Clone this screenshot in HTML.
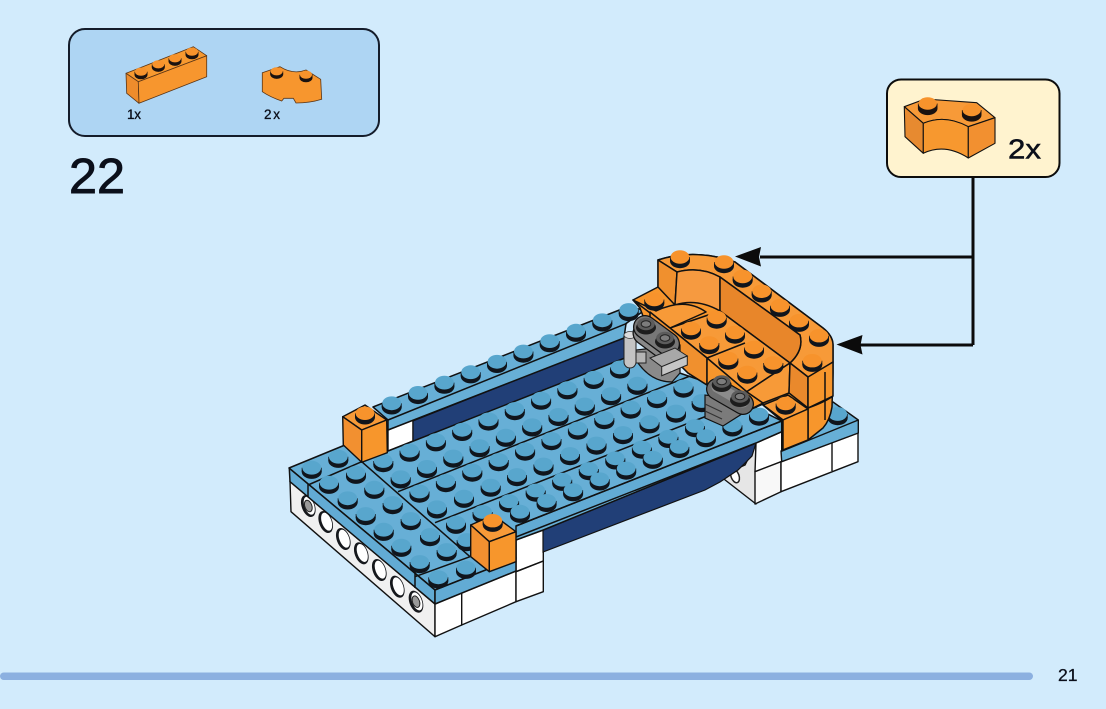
<!DOCTYPE html>
<html><head><meta charset="utf-8"><style>
html,body{margin:0;padding:0;background:#d2ebfc}
svg{display:block}
text{font-family:"Liberation Sans",sans-serif;fill:#0b0f1a;stroke:#0b0f1a}
</style></head><body>
<svg width="1106" height="709" viewBox="0 0 1106 709" xmlns="http://www.w3.org/2000/svg">
<defs>
<g id="b"><ellipse cx="0" cy="4" rx="10" ry="7.2" fill="#10151c"/><rect x="-10" y="0" width="20" height="4" fill="#10151c"/><ellipse cx="0" cy="0" rx="9.4" ry="6.9" fill="#58a6cd"/></g>
<g id="o"><ellipse cx="0" cy="4" rx="10" ry="7.2" fill="#10151c"/><rect x="-10" y="0" width="20" height="4" fill="#10151c"/><ellipse cx="0" cy="0" rx="9.4" ry="6.7" fill="#f7932c"/></g>
<g id="g"><ellipse cx="0" cy="3.5" rx="10" ry="7" fill="#1d1d1d"/><ellipse cx="0" cy="0" rx="8.8" ry="6.2" fill="#5c5c5c"/><ellipse cx="0" cy="0" rx="4.8" ry="3.3" fill="#7c7c7c" stroke="#222" stroke-width="1"/></g>
<g id="h"><ellipse cx="0" cy="0" rx="6.6" ry="11.5" transform="rotate(-20)" fill="#16181c"/><ellipse cx="1" cy="0" rx="4.8" ry="9.4" transform="rotate(-20)" fill="#fff"/></g>
<g id="sm"><ellipse cx="0" cy="3" rx="6.5" ry="4.6" fill="#1a1210"/><rect x="-6.5" y="0" width="13" height="3" fill="#1a1210"/><ellipse cx="0" cy="0" rx="6" ry="4.1" fill="#f7932c"/></g>
<g id="lg"><ellipse cx="0" cy="5" rx="9.8" ry="6.6" fill="#1a1210"/><rect x="-9.8" y="0" width="19.6" height="5" fill="#1a1210"/><ellipse cx="0" cy="0" rx="9.2" ry="6.2" fill="#f7932c"/></g>
</defs>
<rect width="1106" height="709" fill="#d2ebfc"/>

<!-- parts panel -->
<rect x="69" y="29" width="310" height="107" rx="16" fill="#aed5f3" stroke="#141c2a" stroke-width="2"/>
<g stroke="#5a3516" stroke-width=".8" stroke-linejoin="round">
<polygon points="126,73.3 193.3,46.7 206.7,55.7 138.3,81.7" fill="#f7992f"/>
<polygon points="126,73.3 138.3,81.7 139,103.3 126.7,93.3" fill="#ee8c2c"/>
<polygon points="138.3,81.7 206.7,55.7 206.7,76.7 139,103.3" fill="#f7962e"/>
</g>
<use href="#sm" x="141" y="71.7"/><use href="#sm" x="158.3" y="64.3"/><use href="#sm" x="175" y="58.3"/><use href="#sm" x="192" y="51.7"/>
<path d="M262.3,72.7 L280,66.7 Q293,75 306,70 L320.7,79.3 L321.7,99.3 Q310,103 296,103 L293.3,98.3 L284,98.3 L281.7,101 Q270,97 262.3,91.7 Z" fill="#f7962e" stroke="#5a3516" stroke-width=".8"/>
<use href="#sm" x="276.7" y="71.3"/><use href="#sm" x="306" y="74.7"/>
<text x="127" y="119" font-size="13.5" stroke-width=".3" textLength="14">1x</text>
<text x="264" y="119" font-size="13.5" stroke-width=".3" textLength="16">2x</text>
<text x="69" y="193" font-size="49" stroke-width=".9" textLength="56" lengthAdjust="spacingAndGlyphs">22</text>

<!-- callout -->
<rect x="887" y="79.5" width="172.5" height="97.5" rx="14" fill="#fff3cf" stroke="#0c0c0c" stroke-width="2"/>
<g stroke="#111" stroke-width="1.1" stroke-linejoin="round">
<path d="M904.3,106.7 L925,99 L976.7,102.7 L995,117.7 L968.3,126.7 Q945,114 923.3,123.3 Z" fill="#f79a38"/>
<path d="M904.3,106.7 L923.3,123.3 L923.3,153.3 L905,136.7 Z" fill="#e78a30"/>
<path d="M923.3,123.3 Q945,114 968.3,126.7 L968.3,158 Q945,143 923.3,153.3 Z" fill="#f7982f"/>
<path d="M968.3,126.7 L995,117.7 L995,143.3 L968.3,158 Z" fill="#f29030"/>
</g>
<use href="#lg" x="927.7" y="103.5"/><use href="#lg" x="971.7" y="110"/>
<text x="1008" y="158.5" font-size="28" stroke-width=".5" textLength="33" lengthAdjust="spacingAndGlyphs">2x</text>

<!-- connector lines -->
<g fill="none" stroke="#0b0b0b" stroke-width="3">
<path d="M973,177 V345"/><path d="M760,257 H973"/><path d="M860,345 H973"/>
</g>
<polygon points="735,256.5 761,247 759,257 761,266.5" fill="#0b0b0b"/>
<polygon points="836.5,344.5 862.5,335 860.5,345 862.5,354.5" fill="#0b0b0b"/>

<!-- right white bricks -->
<g stroke="#111" stroke-width="1.4" stroke-linejoin="round">
<polygon points="720,476 745,465 756,443 756,504" fill="#e6e6e6"/>
<polygon points="756,443 781.7,431.7 781.7,461.7 755,471.7" fill="#fff"/>
<polygon points="755,471.7 781,461.7 781,491.7 755,504" fill="#f8f8f8"/>
<polygon points="781,461.7 858,433 858,461.7 781,491.7" fill="#fff"/>
<path d="M832,442 V471" fill="none"/>
<polygon points="781,451 833,402 858.3,420 858.3,433 781.7,461.7" fill="#67afd6"/>
<path d="M781,451.5 L858.3,420" fill="none"/>
</g>
<use href="#b" x="837.7" y="414"/>
<ellipse cx="735" cy="476" rx="4" ry="7" transform="rotate(-20 735 476)" fill="#fff" stroke="#222" stroke-width="1.5"/>

<!-- left white base -->
<g stroke="#111" stroke-width="1.4" stroke-linejoin="round">
<polygon points="290,481 435,604 435,636.7 291,511.7" fill="#f0f0f0"/>
<polygon points="435,604 461.7,593 461.7,625 435,636.7" fill="#fff"/>
<polygon points="461.7,593 516,571 516,601.7 461.7,625" fill="#fff"/>
<polygon points="516,563 543.3,552 543.3,591.7 516,601.7" fill="#fff"/>
<polygon points="516,540 543.3,530 543.3,561 516,571.7" fill="#fff"/>
<path d="M516,571.7 L543.3,561" fill="none"/>
<polygon points="388,430 413,420 413,441 388,451" fill="#fff"/>
</g>
<use href="#h" x="308.3" y="506"/><use href="#h" x="325.7" y="522"/><use href="#h" x="343.3" y="539"/><use href="#h" x="361.3" y="553.3"/><use href="#h" x="379.3" y="570"/><use href="#h" x="397.3" y="586.7"/><use href="#h" x="416" y="601.7"/>
<ellipse cx="308.3" cy="506" rx="3.5" ry="6" transform="rotate(-20 308.3 506)" fill="#9a9a9a" stroke="#222"/>
<ellipse cx="416" cy="601.7" rx="3.5" ry="6" transform="rotate(-20 416 601.7)" fill="#9a9a9a" stroke="#222"/>

<!-- dark blue -->
<polygon points="413,421 632,334 632,360 413,442" fill="#213f77" stroke="#111" stroke-width="1.2"/>
<polygon points="543,530 756,443 752,456 738,470 720,482 705,490 543,552" fill="#213f77" stroke="#111" stroke-width="1.2"/>

<!-- blue plates -->
<g stroke="#111" stroke-width="1.5" stroke-linejoin="round">
<polygon points="373,407 627,307 645,310 626,323.5 624,338 388,430 388,420" fill="#67afd6"/>
<path d="M388,420 L627,323.3" fill="none"/>
<polygon points="289,468 345,445 388,451 630,356 700,380 781.7,421 781.7,431.7 756,443 543.3,530 516,540 516,558 435,590" fill="#67afd6"/>
<polygon points="289.3,468.3 435,590 435,604 290,481.7" fill="#62abd4"/>
<polygon points="435,590 516,558 516,571 435,604" fill="#62abd4"/>
<polygon points="516,526 781.7,421 781.7,431.7 756,443 516,537" fill="#62abd4"/>
<path d="M308,484 V497 M415,572 V588 M308,485 L361.7,461.7 M361.7,461.7 L470,556.7 M415,576.7 L470,556.7 M398,491.7 L690,376 M435,522.7 L722,410 M516,526 L781.7,421" fill="none"/>
</g>

<!-- blue studs back to front -->
<use href="#b" x="391.7" y="403.3"/><use href="#b" x="418" y="392.9"/><use href="#b" x="444.4" y="382.6"/><use href="#b" x="470.7" y="372.2"/><use href="#b" x="497" y="361.8"/><use href="#b" x="523.4" y="351.5"/><use href="#b" x="549.7" y="341.1"/><use href="#b" x="576" y="330.7"/><use href="#b" x="602.3" y="320.3"/><use href="#b" x="628.7" y="310"/>
<use href="#b" x="383.3" y="461"/><use href="#b" x="409.6" y="450.6"/><use href="#b" x="435.9" y="440.2"/><use href="#b" x="462.2" y="429.8"/><use href="#b" x="488.5" y="419.4"/><use href="#b" x="514.8" y="409"/><use href="#b" x="541.1" y="398.6"/><use href="#b" x="567.4" y="388.2"/><use href="#b" x="593.7" y="377.8"/><use href="#b" x="620" y="367.4"/>
<use href="#b" x="400.7" y="477.3"/><use href="#b" x="427" y="466.9"/><use href="#b" x="453.3" y="456.5"/><use href="#b" x="479.6" y="446.1"/><use href="#b" x="505.9" y="435.7"/><use href="#b" x="532.2" y="425.3"/><use href="#b" x="558.5" y="414.9"/><use href="#b" x="584.8" y="404.5"/><use href="#b" x="611.1" y="394.1"/><use href="#b" x="637.4" y="383.7"/>
<use href="#b" x="419.5" y="491.5"/><use href="#b" x="445.9" y="481"/><use href="#b" x="472.3" y="470.5"/><use href="#b" x="498.7" y="460"/><use href="#b" x="525.1" y="449.5"/><use href="#b" x="551.5" y="439"/><use href="#b" x="577.9" y="428.5"/><use href="#b" x="604.3" y="418"/><use href="#b" x="630.7" y="407.5"/><use href="#b" x="657.1" y="397"/><use href="#b" x="683.5" y="386.5"/>
<use href="#b" x="437" y="507.3"/><use href="#b" x="464" y="496.7"/><use href="#b" x="490.7" y="485.6"/><use href="#b" x="517" y="475"/><use href="#b" x="543.5" y="464.5"/><use href="#b" x="570" y="454"/><use href="#b" x="596.5" y="443.5"/><use href="#b" x="623" y="433"/><use href="#b" x="649.5" y="422.2"/><use href="#b" x="676" y="411.5"/><use href="#b" x="701.7" y="401"/>
<use href="#b" x="466.7" y="540"/>
<use href="#b" x="456" y="522.7"/><use href="#b" x="482.6" y="512"/><use href="#b" x="509.1" y="501.2"/><use href="#b" x="535.7" y="490.5"/><use href="#b" x="562.2" y="479.7"/><use href="#b" x="588.8" y="469"/><use href="#b" x="615.3" y="458.3"/><use href="#b" x="641.9" y="447.5"/><use href="#b" x="668.4" y="436.8"/><use href="#b" x="695" y="426"/>
<use href="#b" x="520" y="511.7"/><use href="#b" x="546.6" y="500.9"/><use href="#b" x="573.1" y="490.1"/><use href="#b" x="599.7" y="479.3"/><use href="#b" x="626.2" y="468.5"/><use href="#b" x="652.8" y="457.7"/><use href="#b" x="679.3" y="446.9"/><use href="#b" x="705.9" y="436.1"/><use href="#b" x="732.4" y="425.3"/><use href="#b" x="759" y="414.5"/>
<use href="#b" x="338.3" y="456.7"/><use href="#b" x="356" y="472.7"/><use href="#b" x="374.3" y="487.7"/><use href="#b" x="392.7" y="503"/><use href="#b" x="410.7" y="519"/><use href="#b" x="430" y="535"/><use href="#b" x="446.7" y="550"/><use href="#b" x="466" y="567.7"/>
<use href="#b" x="311.7" y="467.7"/><use href="#b" x="329" y="482.7"/><use href="#b" x="347.7" y="498.3"/><use href="#b" x="365.7" y="514"/><use href="#b" x="383.7" y="529.7"/><use href="#b" x="401.3" y="545.7"/><use href="#b" x="419.7" y="562"/><use href="#b" x="438.3" y="577.3"/>

<!-- orange 1x1 bricks -->
<g stroke="#111" stroke-width="1.4" stroke-linejoin="round">
<polygon points="342.7,416.7 365,405 386.7,420 361.7,430" fill="#f79a38"/>
<polygon points="342.7,416.7 361.7,430 361.7,462.3 343.3,445" fill="#f29030"/>
<polygon points="361.7,430 386.7,420 387.3,452.7 361.7,462.3" fill="#f7962c"/>
<polygon points="470.7,525 493.3,515 516,531.7 489.3,541.7" fill="#f79a38"/>
<polygon points="470.7,525 489.3,541.7 489.3,571.7 470.7,556.7" fill="#f29030"/>
<polygon points="489.3,541.7 516,531.7 516,561.7 489.3,571.7" fill="#f7962c"/>
</g>
<use href="#o" x="365" y="413.3"/><use href="#o" x="492.7" y="520.7"/>

<!-- orange assembly -->
<g stroke="#111" stroke-width="1.5" stroke-linejoin="round">
<path d="M633,300 L658,287 L658,260 Q695,248 735,262 L823,328 Q833,336 833,345 L833,373 L832,407 Q830,420 823,428 L808,440 L782,450 L782,421 L763,404 L745,412 L707,385 L688,373 L650,335 L640,308 Z" fill="#f7962c"/>
<path d="M658,260 Q695,248 735,262 L823,328 Q833,336 833,345 L833,362 Q822,370 808,377 L790,363 Q804,350 800,335 L720,277 Q700,266 677,272 Z" fill="#f79a38"/>
<path d="M658,260 L677,272 L675,305 L658,287 Z" fill="#f0902e"/>
<path d="M677,272 Q700,266 720,277 L720,311 Q697,298 675,305 Z" fill="#f69a40"/>
<path d="M720,277 L800,335 Q804,350 790,363 L720,311 Z" fill="#e8862a"/>
<path d="M633,300 L656,311 Q685,297 706,312 L670,328 Z" fill="#f79a38"/>
<polygon points="670,328 720,311 790,363 746.7,391.7 707,358" fill="#f79a38"/>
<polygon points="650,312 670,328 707,358 707,385 688,373 650,335" fill="#f0902e"/>
<polygon points="707,358 746.7,391.7 763,403 745,412 707,385" fill="#f7962c"/>
<polygon points="746.7,391.7 790,363 789,393 763,403" fill="#f79a38"/>
<polygon points="790,363 808,377 808,408 789,393" fill="#ea892c"/>
<polygon points="808,377 833,362 833,396 808,408" fill="#f7962c"/>
<path d="M707,358 L745,343 M825,372 V420" fill="none"/>
<path d="M808,408 Q825,402 833,396 M808,408 V440" fill="none"/>
<polygon points="763,405 788,395 808,409 783,420" fill="#f79a38"/>
<polygon points="763,405 783,420 783,450 782,421" fill="#f0902e"/>
<polygon points="783,420 808,409 808,440 783,450" fill="#f7962c"/>
</g>
<use href="#o" x="680" y="257"/><use href="#o" x="724" y="262"/><use href="#o" x="742.7" y="276.5"/><use href="#o" x="761.7" y="291.3"/><use href="#o" x="780" y="305.7"/><use href="#o" x="799" y="320.7"/><use href="#o" x="819" y="335.7"/><use href="#o" x="812.3" y="360.7"/>
<use href="#o" x="654.3" y="299.5"/>
<use href="#o" x="716.7" y="317.5"/><use href="#o" x="691" y="328.5"/><use href="#o" x="735" y="332.5"/><use href="#o" x="709.3" y="343"/><use href="#o" x="754" y="347.5"/><use href="#o" x="728.3" y="358.5"/><use href="#o" x="773.3" y="363"/><use href="#o" x="747.3" y="372.5"/>
<use href="#o" x="785.7" y="403.5"/>

<!-- gray 1 -->
<path d="M636,350 L636,360 Q650,382 672,382 L680,373 L680,345 Z" fill="#8a8a8a" stroke="#111" stroke-width="1.2"/>
<rect x="636" y="352" width="10" height="11" fill="#b5b5b5" stroke="#222" stroke-width="1"/>
<rect x="624" y="333" width="12" height="35" rx="6" fill="#c4c4c4" stroke="#222" stroke-width="1"/>
<ellipse cx="630" cy="335" rx="6" ry="3.5" fill="#dcdcdc" stroke="#333" stroke-width=".7"/>
<path d="M645,333 L668,350" stroke="#111" stroke-width="25" stroke-linecap="round"/>
<path d="M645,333 L668,350" stroke="#888" stroke-width="22.5" stroke-linecap="round"/>
<path d="M645,327 L668,344" stroke="#111" stroke-width="24" stroke-linecap="round"/>
<path d="M645,327 L668,344" stroke="#777" stroke-width="21.5" stroke-linecap="round"/>
<polygon points="650,358 675,348 687.3,356 661.7,366.7" fill="#a8a8a8" stroke="#222" stroke-width="1"/>
<polygon points="661.7,366.7 687.3,356 687.3,365 661.7,375.7" fill="#c6c6c6" stroke="#222" stroke-width="1"/>
<use href="#g" x="646" y="324"/><use href="#g" x="665" y="338"/>

<!-- gray 2 -->
<polygon points="705,395 705,418 723,426 745,412 745,400" fill="#7b7b7b" stroke="#111" stroke-width="1.2"/>
<path d="M705,404 L722,412 M705,411 L722,419" stroke="#333" stroke-width="1.2" fill="none"/>
<path d="M717,389 L743,404" stroke="#111" stroke-width="22" stroke-linecap="round"/>
<path d="M717,389 L743,404" stroke="#6e6e6e" stroke-width="19.5" stroke-linecap="round"/>
<path d="M717,387 L743,402" stroke="#8c8c8c" stroke-width="11" stroke-linecap="round"/>
<use href="#g" x="721.7" y="381.5"/><use href="#g" x="740" y="396.5"/>

<!-- bottom bar -->
<rect x="0" y="672.5" width="1033" height="7.5" rx="3.7" fill="#8cb0e0"/>
<text x="1058" y="681" font-size="17.5" stroke-width=".3">21</text>
</svg>
</body></html>
